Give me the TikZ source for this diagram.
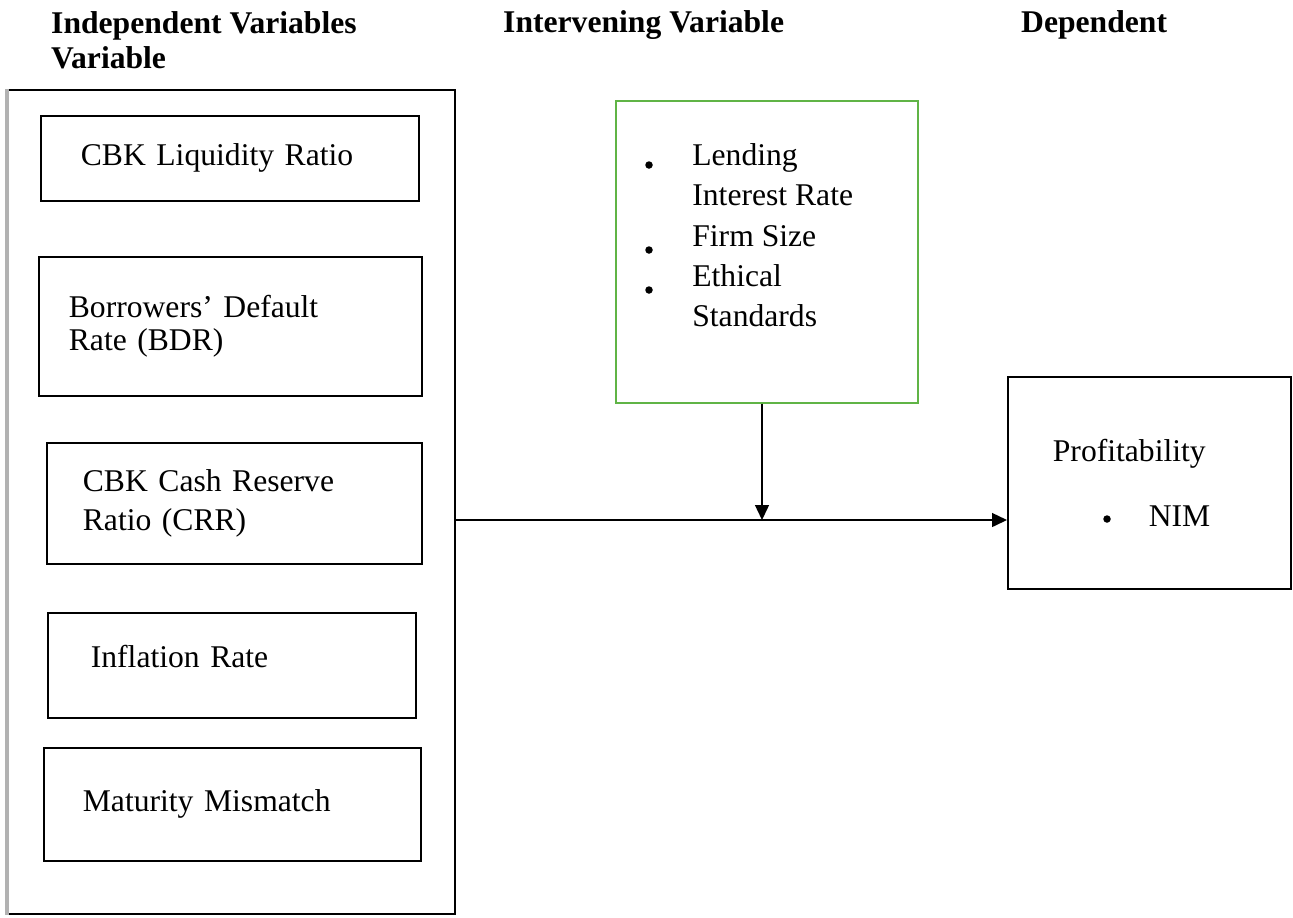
\documentclass[tikz,border=0pt]{standalone}
\usepackage{fontspec}
\setmainfont{Liberation Serif}
\usetikzlibrary{arrows.meta}
\definecolor{boxgreen}{RGB}{96,180,70}

\begin{document}
\begin{tikzpicture}[x=0.02cm,y=-0.02cm,
    every node/.style={font=\fontsize{18}{21.5}\selectfont},
    head/.style={anchor=base west,font=\fontsize{18}{20.4}\selectfont\bfseries},
    varbox/.style={draw,line width=1pt,anchor=north west,inner sep=0pt,align=left},
    link/.style={line width=0.8pt,-{Triangle[length=0.3cm,width=0.28cm]}}]
        \useasboundingbox (0,0) rectangle (1293,917);
        % headings
        \node[head,anchor=north west,align=left] (indhead) at (45,5) {Independent Variables\\Variable};
        \node[head] (intvhead) at (497,32) {Intervening Variable};
        \node[head] (dephead) at (1015,32) {Dependent};
        % independent variables
        \node[varbox,minimum width=8.94cm,minimum height=16.48cm] (indbox) at (7,89) {};
        \draw[gray!60,line width=2pt] (indbox.north west) -- (indbox.south west);
        \node[varbox,minimum width=7.56cm,minimum height=1.70cm,text width=5.96cm] (liq) at (40,115) {CBK Liquidity Ratio};
        \node[varbox,minimum width=7.66cm,minimum height=2.78cm,text width=6.46cm,
              font=\fontsize{18}{19}\selectfont] (bdr) at (38,256) {Borrowers’ Default\\Rate (BDR)};
        \node[varbox,minimum width=7.50cm,minimum height=2.42cm,text width=6.06cm,
              font=\fontsize{18}{22.7}\selectfont] (crr) at (46,442) {CBK Cash Reserve\\Ratio (CRR)};
        \node[varbox,minimum width=7.36cm,minimum height=2.10cm,text width=5.64cm,text depth=0.36cm] (infl) at (47,612) {Inflation Rate};
        \node[varbox,minimum width=7.54cm,minimum height=2.26cm,text width=5.98cm] (mat) at (43,747) {Maturity Mismatch};
        % intervening variable
        \node[varbox,draw=boxgreen,minimum width=6.04cm,minimum height=6.04cm] (intv) at (615,100) {};
        \node[anchor=north west,inner sep=0pt,align=left,font=\fontsize{18}{23}\selectfont] (intvtxt) at (692,143)
            {Lending\\Interest Rate\\Firm Size\\Ethical\\Standards};
        \foreach \yb in {165,250,290}
            \fill (649,\yb) circle (0.075cm);
        % dependent variable
        \node[varbox,minimum width=5.66cm,minimum height=4.24cm,text width=3.86cm] (dep) at (1007,376)
            {Profitability\\[15pt]\hspace*{1.92cm}NIM};
        \fill (1107,519) circle (0.075cm);
        % arrows
        \coordinate (join) at (762,520);
        \draw[link] (join |- intv.south) -- (join);
        \draw[link] (join -| indbox.east) -- (join -| dep.west);
\end{tikzpicture}
\end{document}
